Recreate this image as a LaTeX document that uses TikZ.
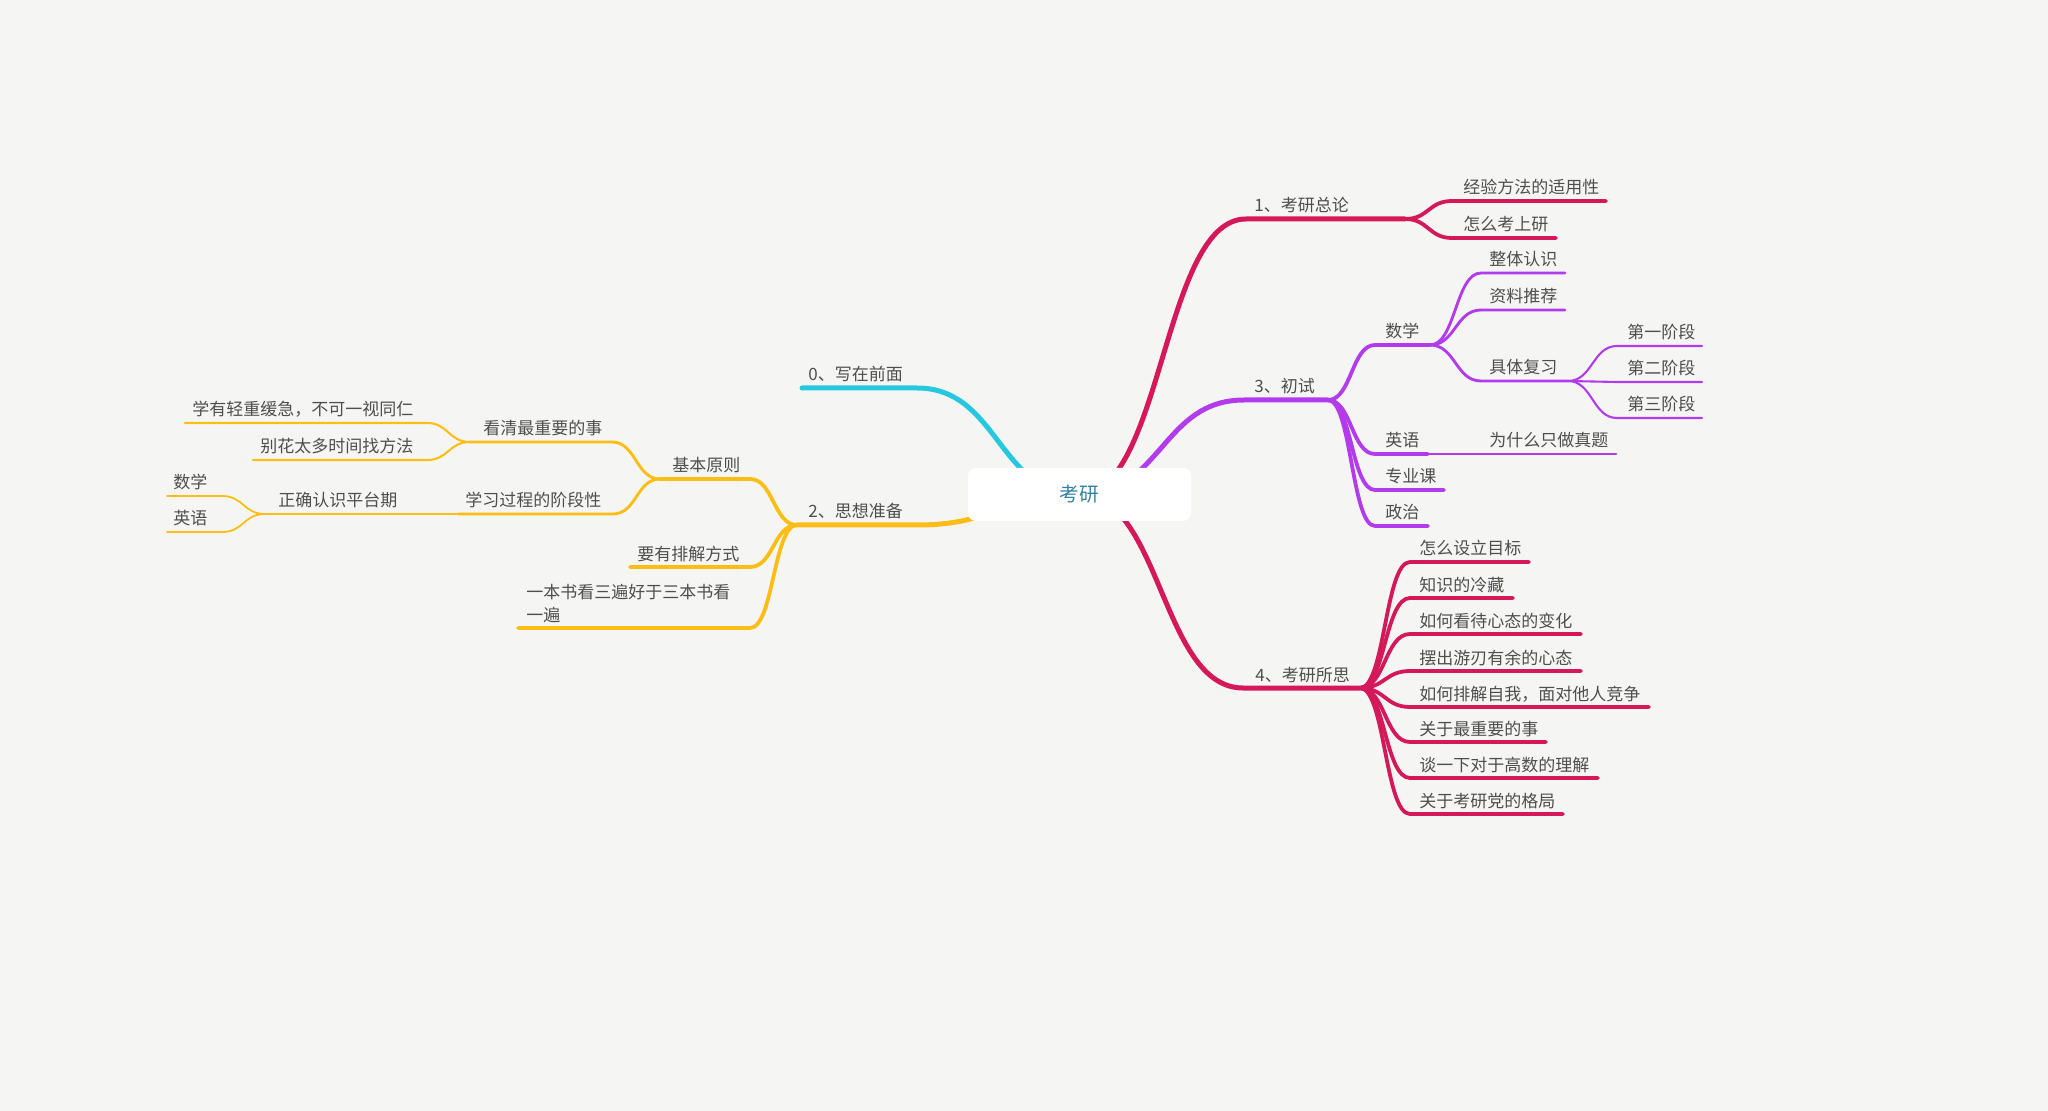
\documentclass[tikz,border=0pt]{standalone}
\usepackage{fontspec}
\setmainfont{Noto Sans CJK SC}
\usepackage{tikz}
\usetikzlibrary{
    calc
}
\definecolor{mmBack}{RGB}{245,246,244}
\definecolor{mmText}{RGB}{78,78,78}
\definecolor{mmRoot}{RGB}{52,128,160}
\definecolor{mmCrimson}{RGB}{212,24,90}
\definecolor{mmPurple}{RGB}{178,60,236}
\definecolor{mmCyan}{RGB}{38,200,224}
\definecolor{mmYellow}{RGB}{252,190,22}
\pgfdeclarelayer{canvas}
\pgfdeclarelayer{links}
\pgfsetlayers{canvas,links,main}

\begin{document}
\begin{tikzpicture}[
    x=0.5pt,
    y=-0.5pt,
    lbl/.style={
        anchor=base west,
        inner sep=0pt,
        text=mmText,
        font=\fontsize{8.5}{11.5}\selectfont
    },
    root/.style={
        rectangle,
        rounded corners=4pt,
        fill=white,
        minimum width=111.5pt,
        minimum height=26.5pt,
        text=mmRoot,
        font=\fontsize{9.8}{12}\selectfont
    },
    mmlink/.style={
        to path={
            .. controls ($(\tikztostart)!0.5!(\tikztostart -| \tikztotarget)$)
            and ($(\tikztotarget)!0.5!(\tikztostart |- \tikztotarget)$)
            .. (\tikztotarget)
        }
    },
    lvl1/.style={line width=2.5pt, line cap=round},
    lvl2/.style={line width=1.9pt, line cap=round},
    lvl3/.style={line width=1.45pt, line cap=round},
    lvl4/.style={line width=1.05pt, line cap=round},
    lvl5/.style={line width=0.9pt, line cap=round}
]

% =============================================================
% Canvas
% =============================================================
\begin{pgfonlayer}{canvas}
\fill[mmBack] (0,0) rectangle (2048,1111);
\end{pgfonlayer}
\useasboundingbox (0,0) rectangle (2048,1111);

\node[root] (root) at (1079.5,494.5) {考研};

% =============================================================
% 0、写在前面
% =============================================================
\coordinate (b0-in) at (917,388);
\coordinate (b0-out) at (802,388);
\node[lbl] (b0) at (808,381) {0、写在前面};

% =============================================================
% 1、考研总论
% =============================================================
\coordinate (b1-in) at (1246,219);
\coordinate (b1-out) at (1405,219);
\node[lbl] (b1) at (1254,212) {1、考研总论};

\foreach \y/\xe/\txt [count=\i] in {
    201/1606/经验方法的适用性,
    238/1556/怎么考上研}{
    \coordinate (b1-\i-in) at (1452,\y);
    \coordinate (b1-\i-out) at (\xe,\y);
    \node[lbl] (b1-\i) at (1463,\y-7) {\txt};
    \draw[lvl2, mmCrimson] (b1-out) to[mmlink] (b1-\i-in) -- (b1-\i-out);
}

% =============================================================
% 2、思想准备 (left side)
% =============================================================
\coordinate (b2-in) at (917,525);
\coordinate (b2-out) at (797,525);
\node[lbl] (b2) at (808,518) {2、思想准备};

% basic principles
\coordinate (b2a-in) at (750,479);
\coordinate (b2a-out) at (660,479);
\node[lbl] (b2a) at (672,472) {基本原则};
\draw[lvl2, mmYellow] (b2-out) to[mmlink] (b2a-in) -- (b2a-out);

\coordinate (b2a1-in) at (612,442);
\coordinate (b2a1-out) at (470,442);
\node[lbl] (b2a1) at (483,435) {看清最重要的事};
\draw[lvl3, mmYellow] (b2a-out) to[mmlink] (b2a1-in) -- (b2a1-out);

\foreach \y/\xe/\txt [count=\i] in {
    423/185/学有轻重缓急，不可一视同仁,
    460/253/别花太多时间找方法}{
    \coordinate (b2a1-\i-in) at (427,\y);
    \coordinate (b2a1-\i-out) at (\xe,\y);
    \node[lbl] (b2a1-\i) at (\xe+7,\y-7) {\txt};
    \draw[lvl4, mmYellow] (b2a1-out) to[mmlink] (b2a1-\i-in) -- (b2a1-\i-out);
}

\coordinate (b2a2-in) at (613,514);
\coordinate (b2a2-out) at (458,514);
\node[lbl] (b2a2) at (465,507) {学习过程的阶段性};
\draw[lvl3, mmYellow] (b2a-out) to[mmlink] (b2a2-in) -- (b2a2-out);

\coordinate (b2a2a-in) at (415,514);
\coordinate (b2a2a-out) at (265,514);
\node[lbl] (b2a2a) at (278,507) {正确认识平台期};
\draw[lvl4, mmYellow] (b2a2-out) to[mmlink] (b2a2a-in) -- (b2a2a-out);

\foreach \y/\txt [count=\i] in {496/数学, 532/英语}{
    \coordinate (b2a2a-\i-in) at (222,\y);
    \coordinate (b2a2a-\i-out) at (167,\y);
    \node[lbl] (b2a2a-\i) at (173,\y-7) {\txt};
    \draw[lvl5, mmYellow] (b2a2a-out) to[mmlink] (b2a2a-\i-in) -- (b2a2a-\i-out);
}

% other children
\coordinate (b2b-in) at (750,567);
\coordinate (b2b-out) at (630,567);
\node[lbl] (b2b) at (637,560) {要有排解方式};
\draw[lvl2, mmYellow] (b2-out) to[mmlink] (b2b-in) -- (b2b-out);

\coordinate (b2c-in) at (750,628);
\coordinate (b2c-out) at (518,628);
\node[lbl, align=left] (b2c) at (526,621) {一本书看三遍好于三本书看\\一遍};
\draw[lvl2, mmYellow] (b2-out) to[mmlink] (b2c-in) -- (b2c-out);

% =============================================================
% 3、初试
% =============================================================
\coordinate (b3-in) at (1244,400);
\coordinate (b3-out) at (1328,400);
\node[lbl] (b3) at (1254,393) {3、初试};

\foreach \y/\xe/\txt [count=\i] in {
    345/1430/数学,
    454/1428/英语,
    490/1444/专业课,
    526/1428/政治}{
    \coordinate (b3-\i-in) at (1375,\y);
    \coordinate (b3-\i-out) at (\xe,\y);
    \node[lbl] (b3-\i) at (1385,\y-7) {\txt};
    \draw[lvl2, mmPurple] (b3-out) to[mmlink] (b3-\i-in) -- (b3-\i-out);
}

% maths
\foreach \y/\xe/\txt [count=\i] in {
    273/1565/整体认识,
    310/1565/资料推荐,
    381/1568/具体复习}{
    \coordinate (b3-1-\i-in) at (1481,\y);
    \coordinate (b3-1-\i-out) at (\xe,\y);
    \node[lbl] (b3-1-\i) at (1489,\y-7) {\txt};
    \draw[lvl3, mmPurple] (b3-1-out) to[mmlink] (b3-1-\i-in) -- (b3-1-\i-out);
}

\foreach \y/\txt [count=\i] in {
    346/第一阶段,
    382/第二阶段,
    418/第三阶段}{
    \coordinate (b3-1-3-\i-in) at (1617,\y);
    \coordinate (b3-1-3-\i-out) at (1702,\y);
    \node[lbl] (b3-1-3-\i) at (1627,\y-7) {\txt};
    \draw[lvl4, mmPurple] (b3-1-3-out) to[mmlink] (b3-1-3-\i-in) -- (b3-1-3-\i-out);
}

% english
\coordinate (b3-2-1-in) at (1481,454);
\coordinate (b3-2-1-out) at (1616,454);
\node[lbl] (b3-2-1) at (1489,447) {为什么只做真题};
\draw[lvl3, mmPurple] (b3-2-out) to[mmlink] (b3-2-1-in) -- (b3-2-1-out);

% =============================================================
% 4、考研所思
% =============================================================
\coordinate (b4-in) at (1243,688);
\coordinate (b4-out) at (1360,688);
\node[lbl] (b4) at (1255,681) {4、考研所思};

\foreach \y/\xe/\txt [count=\i] in {
    562/1529/怎么设立目标,
    598/1513/知识的冷藏,
    634/1581/如何看待心态的变化,
    671/1581/摆出游刃有余的心态,
    707/1649/如何排解自我，面对他人竞争,
    742/1546/关于最重要的事,
    778/1598/谈一下对于高数的理解,
    814/1563/关于考研党的格局}{
    \coordinate (b4-\i-in) at (1410,\y);
    \coordinate (b4-\i-out) at (\xe,\y);
    \node[lbl] (b4-\i) at (1419,\y-7) {\txt};
    \draw[lvl2, mmCrimson] (b4-out) to[mmlink] (b4-\i-in) -- (b4-\i-out);
}

% =============================================================
% Main branches, behind the root box
% =============================================================
\begin{pgfonlayer}{links}
\draw[lvl1, mmCyan] (root.center) to[mmlink] (b0-in) -- (b0-out);
\draw[lvl1, mmCrimson] (root.center) to[mmlink] (b1-in) -- (b1-out);
\draw[lvl1, mmYellow] (root.center) to[mmlink] (b2-in) -- (b2-out);
\draw[lvl1, mmPurple] (root.center) to[mmlink] (b3-in) -- (b3-out);
\draw[lvl1, mmCrimson] (root.center) to[mmlink] (b4-in) -- (b4-out);
\end{pgfonlayer}

\end{tikzpicture}
\end{document}
